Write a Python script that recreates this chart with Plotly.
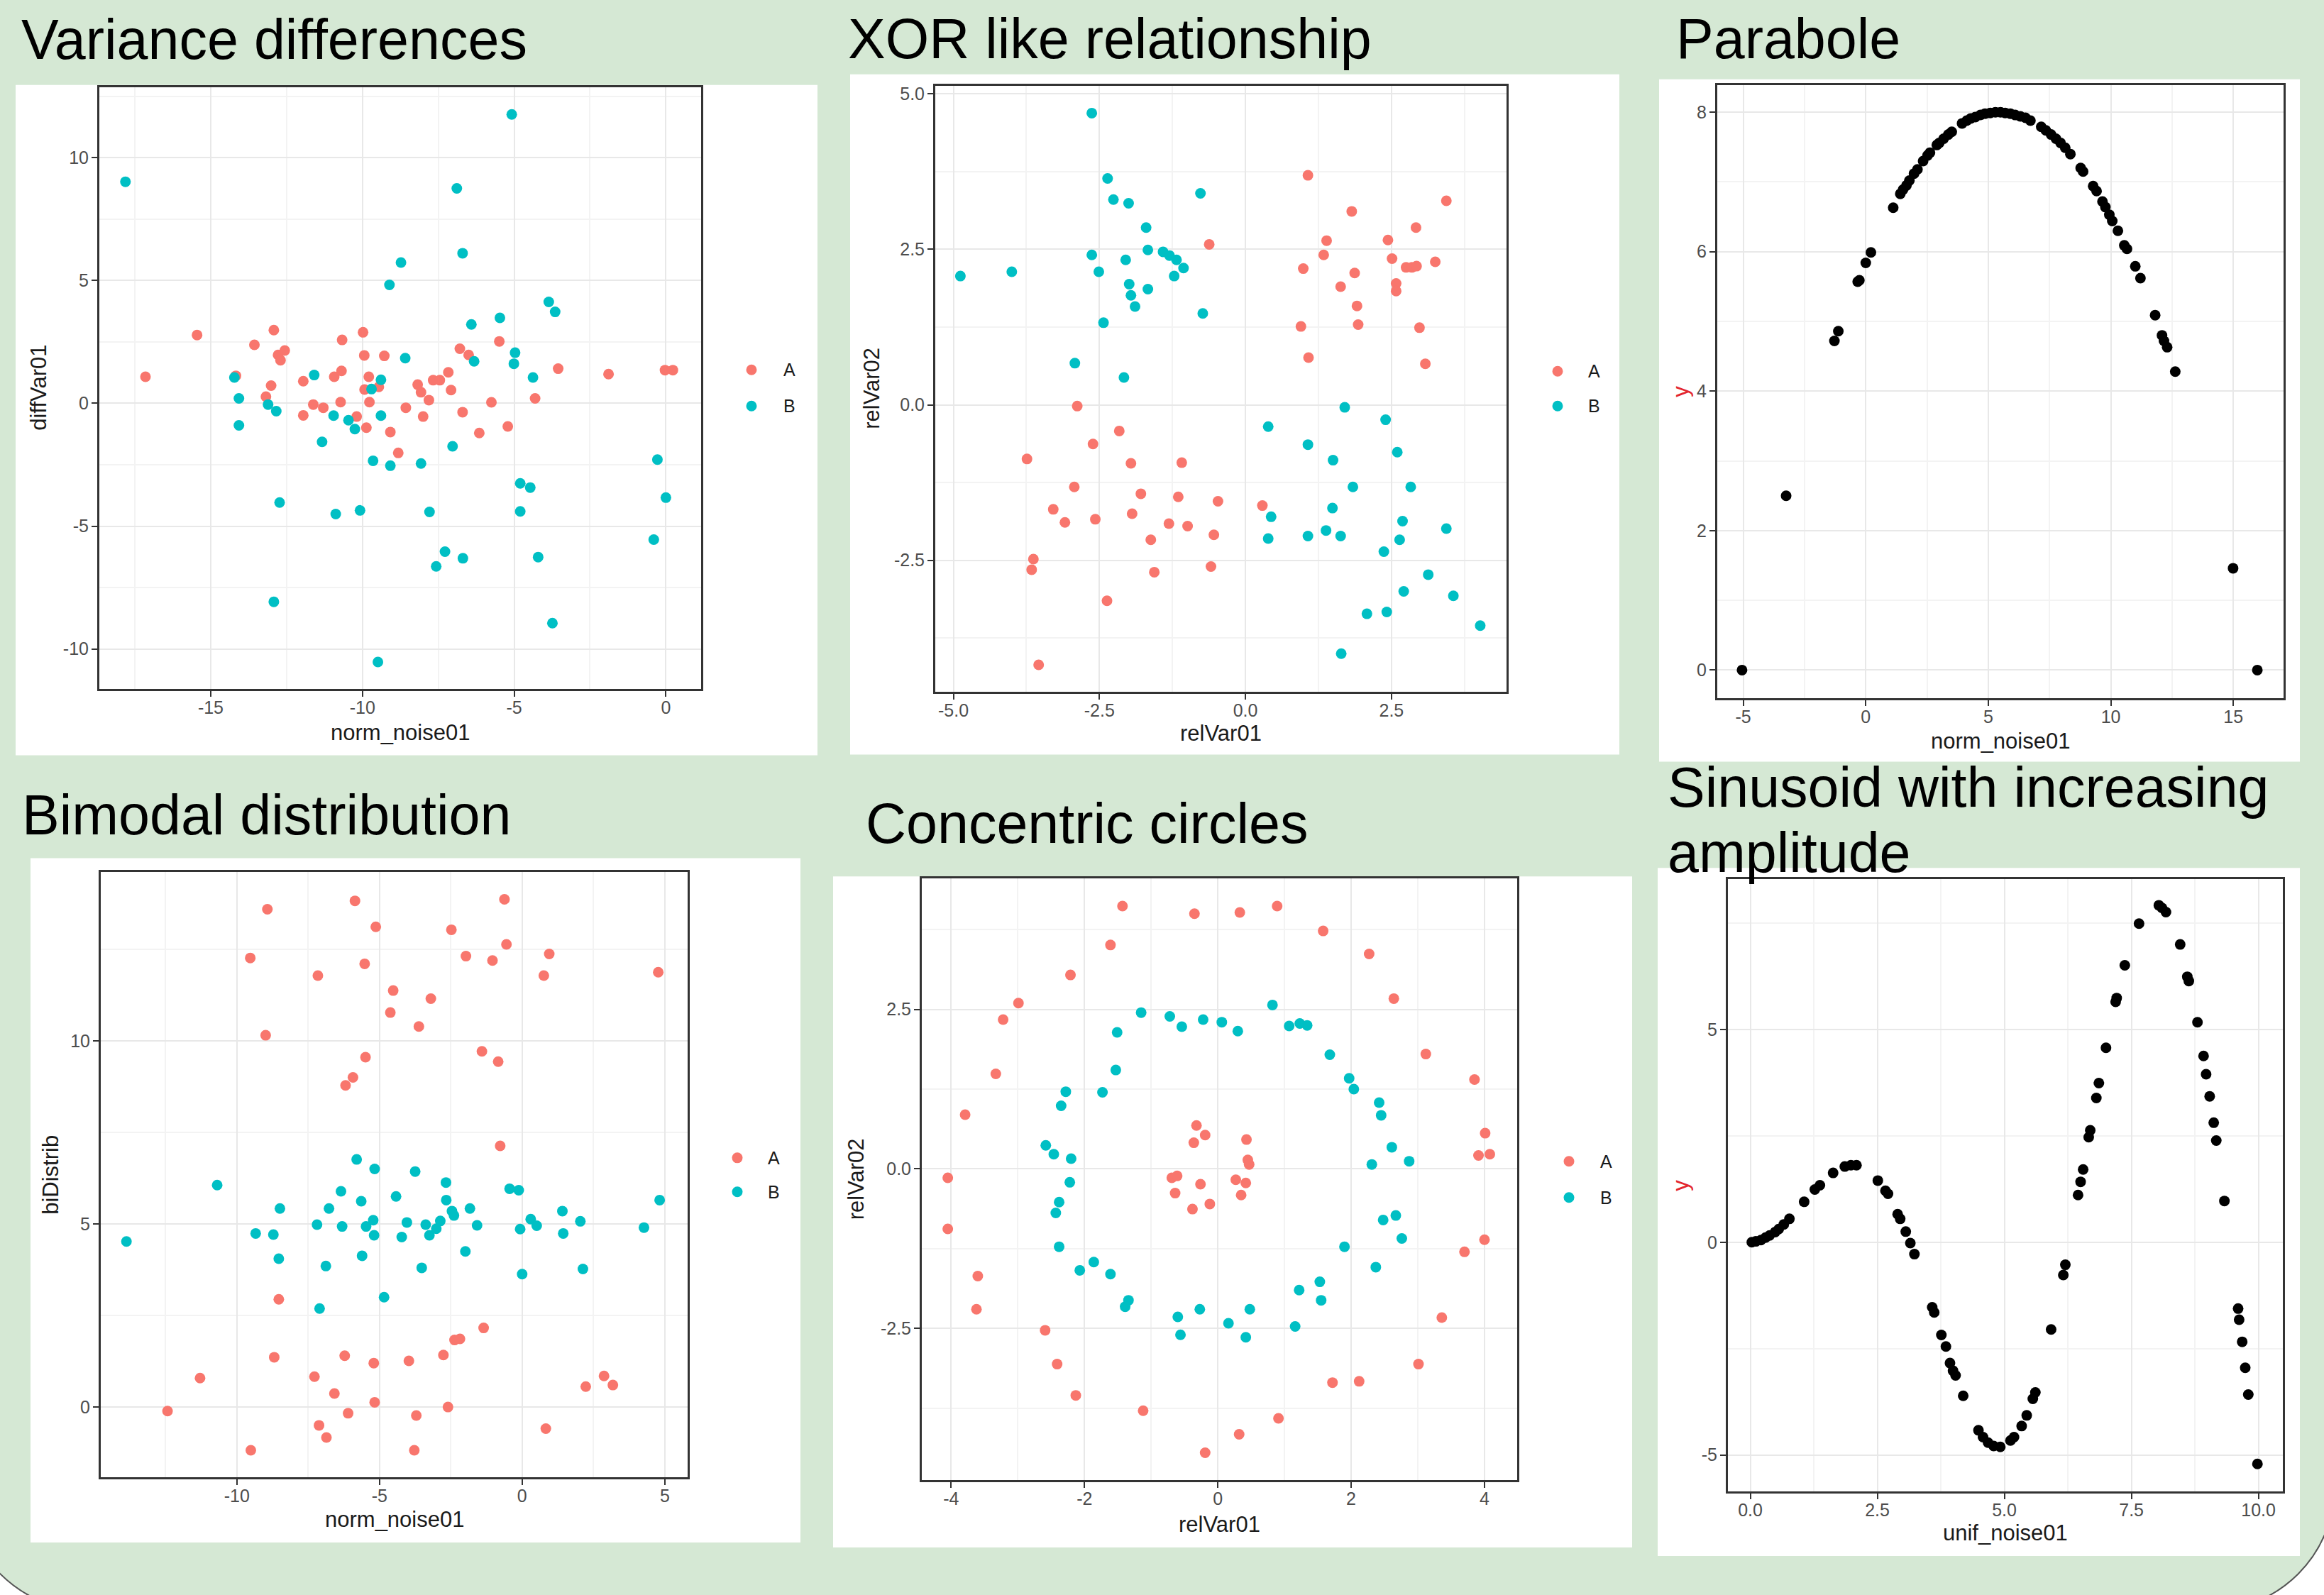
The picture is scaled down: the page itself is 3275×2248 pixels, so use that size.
import plotly.graph_objects as go

W, H = 3275, 2248
RED, TEAL, BLACK = "#F8766D", "#00BFC4", "#000000"
FONT = "Liberation Sans, Arial, Helvetica, sans-serif"

# ---------------- data ----------------
VAR_A_X = [-17.15, -15.45, -13.56, -12.92, -12.78, -12.56, -12.70, -13.01, -13.18, -14.17,
           -11.95, -11.95, -11.62, -11.29, -10.93, -10.69, -10.67, -10.72, -10.19, -9.98,
           -9.94, -9.93, -9.79, -9.77, -9.87, -9.46, -9.28, -9.08, -8.82, -8.57,
           -8.18, -8.07, -8.00, -7.81, -7.67, -7.45, -7.17, -7.08, -6.79, -6.50,
           -6.70, -6.15, -5.75, -5.49, -5.21, -4.31, -3.55, -1.89, -0.03, 0.23]
VAR_A_Y = [1.08, 2.78, 2.38, 2.98, 1.97, 2.15, 1.75, 0.72, 0.27, 1.12,
           0.90, -0.49, -0.05, -0.18, 1.08, 1.32, 2.58, 0.05, -0.54, 2.89,
           1.95, 0.56, 1.08, 0.05, -0.99, 0.67, 1.93, -1.17, -2.02, -0.18,
           0.76, 0.45, -0.54, 0.13, 0.94, 0.94, 1.26, 0.54, 2.22, 1.97,
           -0.36, -1.21, 0.04, 2.52, -0.94, 0.20, 1.41, 1.19, 1.35, 1.35]
VAR_B_X = [-17.81, -5.08, -6.89, -6.70, -8.73, -9.11, -3.86, -3.65, -5.47, -6.41,
           -4.97, -5.01, -6.32, -8.59, -4.38, -14.22, -14.07, -14.07, -13.11, -12.84,
           -11.59, -11.33, -10.95, -10.46, -10.25, -9.70, -9.39, -9.39, -9.65, -9.08,
           -8.07, -7.03, -12.73, -10.88, -10.08, -7.79, -4.80, -4.47, -4.80, -0.28,
           0.0, -0.40, -7.28, -7.57, -6.69, -4.21, -12.92, -3.74, -9.49]
VAR_B_Y = [9.02, 11.76, 8.75, 6.11, 5.73, 4.82, 4.13, 3.72, 3.48, 3.21,
           2.06, 1.61, 1.71, 1.84, 1.05, 1.05, 0.20, -0.90, -0.05, -0.32,
           1.15, -1.57, -0.50, -0.69, -1.05, 0.58, 0.96, -0.50, -2.34, -2.54,
           -2.45, -1.75, -4.04, -4.51, -4.36, -4.42, -3.26, -3.43, -4.40, -2.29,
           -3.84, -5.55, -6.04, -6.64, -6.31, -6.26, -8.08, -8.95, -10.53]

XOR_A_X = [1.07, 3.44, 1.82, 2.92, 1.39, 2.44, 1.34, 2.51, 3.25, 0.99,
           2.75, 2.85, 2.93, 1.87, 1.63, 2.58, 2.58, 1.91, 1.93, 0.95,
           2.98, 1.08, 3.08, -0.62, -2.88, -2.16, -2.61, -3.74, -1.96, -1.09,
           -2.93, -1.79, -1.15, -0.47, -3.29, -1.94, -3.09, -2.57, -1.31, -0.99,
           -0.54, -1.62, 0.29, -3.63, -3.66, -1.56, -0.59, -2.37, -3.54]
XOR_A_Y = [3.69, 3.28, 3.11, 2.85, 2.64, 2.65, 2.41, 2.35, 2.30, 2.19,
           2.21, 2.21, 2.23, 2.12, 1.90, 1.95, 1.83, 1.59, 1.29, 1.26,
           1.24, 0.76, 0.66, 2.58, -0.02, -0.42, -0.63, -0.87, -0.94, -0.93,
           -1.32, -1.43, -1.48, -1.55, -1.68, -1.75, -1.89, -1.84, -1.91, -1.95,
           -2.09, -2.17, -1.62, -2.48, -2.65, -2.69, -2.60, -3.15, -4.18]
XOR_B_X = [-2.63, -2.36, -2.26, -2.00, -0.77, -1.70, -1.67, -1.41, -1.30, -1.18,
           -1.06, -1.22, -2.63, -2.05, -2.51, -1.99, -1.96, -1.89, -1.67, -0.73,
           -2.43, -4.88, -4.00, -2.92, -2.08, 1.70, 2.40, 0.39, 1.07, 2.60,
           1.50, 1.84, 2.83, 0.44, 1.49, 2.69, 3.44, 1.38, 0.39, 1.07,
           1.63, 2.64, 2.37, 3.13, 2.71, 3.56, 2.08, 2.42, 4.02, 1.64]
XOR_B_Y = [4.69, 3.64, 3.30, 3.24, 3.40, 2.85, 2.49, 2.46, 2.40, 2.33,
           2.20, 2.07, 2.41, 2.33, 2.14, 1.94, 1.76, 1.58, 1.86, 1.47,
           1.32, 2.07, 2.14, 0.67, 0.44, -0.04, -0.24, -0.35, -0.64, -0.76,
           -0.89, -1.32, -1.32, -1.80, -1.66, -1.87, -1.99, -2.02, -2.15, -2.11,
           -2.11, -2.17, -2.36, -2.73, -3.00, -3.07, -3.36, -3.33, -3.55, -4.00]

PARA_X = [-5.05, -3.25, -1.28, -1.12, -0.33, -0.26, 0.0, 0.21, 1.12, 1.41,
          1.52, 1.66, 1.78, 1.97, 2.11, 2.34, 2.52, 2.62, 2.90, 3.00,
          3.18, 3.37, 3.51, 3.93, 4.12, 4.28, 4.47, 4.68, 4.87, 5.08,
          5.29, 5.50, 5.69, 5.90, 6.10, 6.31, 6.52, 6.72, 7.16, 7.35,
          7.56, 7.76, 7.95, 8.14, 8.35, 8.77, 8.87, 9.28, 9.42, 9.66,
          9.78, 9.94, 10.06, 10.29, 10.55, 10.66, 11.00, 11.21, 11.81, 12.09,
          12.17, 12.30, 12.63, 14.99, 15.98]
PARA_Y = [0.0, 2.50, 4.72, 4.86, 5.57, 5.59, 5.84, 5.99, 6.63, 6.83,
          6.89, 6.95, 7.02, 7.12, 7.18, 7.30, 7.38, 7.42, 7.53, 7.56,
          7.62, 7.68, 7.72, 7.84, 7.88, 7.91, 7.93, 7.96, 7.98, 7.99,
          8.00, 8.00, 7.99, 7.98, 7.96, 7.94, 7.92, 7.88, 7.79, 7.74,
          7.68, 7.62, 7.56, 7.49, 7.40, 7.20, 7.15, 6.94, 6.87, 6.72,
          6.64, 6.53, 6.44, 6.30, 6.09, 6.04, 5.79, 5.62, 5.09, 4.80,
          4.72, 4.63, 4.28, 1.46, 0.0]

BI_A_X = [-8.93, -5.86, -0.62, -5.13, -2.48, -0.55, -9.53, -5.52, -1.97, -1.04,
          0.95, -7.16, 0.76, 4.77, -4.52, -3.20, -4.62, -3.62, -8.99, -5.49,
          -1.41, -0.84, -5.93, -6.19, -0.77, -8.53, -1.35, -2.37, -2.18, -8.69,
          -6.22, -2.76, -5.20, -3.97, -11.29, -7.28, 2.87, 3.18, 2.23, -6.58,
          -5.17, -2.60, -12.43, -6.10, -3.71, -7.12, -6.86, 0.83, -9.51, -3.78]
BI_A_Y = [13.59, 13.82, 13.86, 13.11, 13.03, 12.63, 12.26, 12.10, 12.31, 12.19,
          12.37, 11.78, 11.78, 11.87, 11.37, 11.15, 10.77, 10.39, 10.15, 9.55,
          9.71, 9.43, 9.00, 8.78, 7.13, 2.94, 2.16, 1.83, 1.86, 1.36,
          1.40, 1.42, 1.20, 1.26, 0.79, 0.83, 0.85, 0.60, 0.56, 0.37,
          0.13, 0.0, -0.11, -0.17, -0.23, -0.50, -0.83, -0.59, -1.18, -1.18]
BI_B_X = [-13.87, -10.69, -5.80, -5.17, -3.75, -2.67, -2.66, -6.35, -4.42, -5.64,
          -6.77, -8.49, -1.83, -0.44, -0.12, 1.41, 2.04, 4.82, -9.34, -8.72,
          -7.19, -6.31, -5.47, -5.22, -5.19, -4.22, -4.04, -3.38, -3.25, -3.01,
          -2.87, -2.46, -2.39, -1.58, -0.07, 0.30, 0.51, 1.44, 4.27, -8.53,
          -5.61, -1.99, -6.88, -3.52, 0.0, 2.13, -4.84, -7.10]
BI_B_Y = [4.52, 6.06, 6.76, 6.50, 6.43, 6.13, 5.65, 5.89, 5.75, 5.62,
          5.42, 5.42, 5.42, 5.96, 5.92, 5.35, 5.07, 5.65, 4.74, 4.71,
          4.98, 4.93, 4.93, 5.10, 4.69, 4.64, 5.04, 4.98, 4.69, 4.87,
          5.08, 5.35, 5.23, 4.96, 4.86, 5.13, 4.95, 4.74, 4.90, 4.05,
          4.13, 4.25, 3.85, 3.80, 3.63, 3.77, 3.00, 2.69]

CIRC_A_X = [-1.43, -0.35, 0.33, 0.89, 1.58, -1.61, 2.27, -2.21, -2.99, 2.64,
            -3.22, -3.33, 3.12, 3.85, -3.79, 4.01, 3.91, 4.08, -4.05, -4.05,
            4.00, 3.70, -3.60, -3.62, -2.59, 3.36, -2.41, 3.01, 1.72, 2.12,
            -2.13, -1.12, 0.91, 0.32, -0.19,
            -0.32, -0.19, -0.36, 0.43, 0.45, 0.47, -0.69, -0.61, -0.64, -0.26,
            0.27, 0.42, 0.35, -0.38, -0.12]
CIRC_A_Y = [4.12, 4.00, 4.02, 4.12, 3.73, 3.51, 3.37, 3.04, 2.60, 2.67,
            2.34, 1.49, 1.80, 1.40, 0.85, 0.56, 0.21, 0.23, -0.14, -0.94,
            -1.11, -1.30, -1.68, -2.20, -2.53, -2.33, -3.06, -3.06, -3.35, -3.33,
            -3.55, -3.79, -3.91, -4.16, -4.45,
            0.68, 0.53, 0.41, 0.46, 0.14, 0.07, -0.14, -0.11, -0.38, -0.24,
            -0.17, -0.22, -0.41, -0.63, -0.55]
CIRC_B_X = [-1.15, -0.72, -0.54, -0.22, 0.06, 0.30, 0.82, 1.07, 1.23, 1.34,
            -1.51, -1.53, 1.68, 1.97, 2.04, -1.73, -2.28, -2.35, 2.42, 2.45,
            -2.58, -2.46, -2.20, 2.61, 2.87, 2.31, -2.22, -2.38, -2.43, -2.38,
            2.48, 2.67, 2.76, 1.90, 2.37, -2.07, -1.86, -1.61, 1.53, 1.22,
            1.55, -1.34, -1.39, -0.60, -0.27, 0.48, -0.56, 0.16, 0.42, 1.16]
CIRC_B_Y = [2.45, 2.39, 2.23, 2.34, 2.30, 2.16, 2.57, 2.24, 2.28, 2.25,
            2.14, 1.55, 1.79, 1.42, 1.25, 1.20, 1.21, 0.99, 1.04, 0.84,
            0.37, 0.23, 0.16, 0.34, 0.12, 0.07, -0.21, -0.52, -0.69, -1.22,
            -0.80, -0.73, -1.09, -1.22, -1.54, -1.59, -1.46, -1.65, -1.77, -1.90,
            -2.06, -2.06, -2.16, -2.32, -2.20, -2.20, -2.60, -2.42, -2.64, -2.47]

SIN_X = [0.03, 0.11, 0.21, 0.30, 0.38, 0.49, 0.56, 0.66, 0.77, 1.06,
         1.27, 1.37, 1.63, 1.86, 1.98, 2.09, 2.51, 2.66, 2.71, 2.90,
         2.95, 3.06, 3.15, 3.23, 3.58, 3.62, 3.76, 3.85, 3.93, 3.99,
         4.04, 4.19, 4.49, 4.58, 4.68, 4.79, 4.92, 5.12, 5.19, 5.34,
         5.44, 5.56, 5.61, 5.92, 6.16, 6.20, 6.45, 6.50, 6.55, 6.66,
         6.69, 6.81, 6.86, 7.00, 7.19, 7.21, 7.37, 7.65, 8.04, 8.10,
         8.18, 8.46, 8.60, 8.63, 8.80, 8.92, 8.97, 9.04, 9.12, 9.17,
         9.33, 9.60, 9.62, 9.68, 9.74, 9.80, 9.98]
SIN_Y = [0.0, 0.02, 0.05, 0.11, 0.16, 0.24, 0.31, 0.42, 0.55, 0.95,
         1.24, 1.34, 1.63, 1.78, 1.81, 1.81, 1.45, 1.21, 1.14, 0.66,
         0.55, 0.25, -0.02, -0.28, -1.53, -1.65, -2.18, -2.45, -2.84, -3.02,
         -3.13, -3.61, -4.42, -4.58, -4.71, -4.79, -4.81, -4.66, -4.58, -4.32,
         -4.07, -3.68, -3.53, -2.05, -0.77, -0.53, 1.11, 1.42, 1.71, 2.47,
         2.63, 3.39, 3.74, 4.57, 5.65, 5.74, 6.51, 7.49, 7.92, 7.86,
         7.76, 7.00, 6.24, 6.14, 5.17, 4.38, 3.95, 3.43, 2.81, 2.39,
         0.97, -1.56, -1.82, -2.34, -2.95, -3.58, -5.21]

# ---------------- tick labels ----------------
VAR_XTICKS, VAR_XLABELS = [-15, -10, -5, 0], ["-15", "-10", "-5", "0"]
VAR_YTICKS, VAR_YLABELS = [-10, -5, 0, 5, 10], ["-10", "-5", "0", "5", "10"]
XOR_XTICKS, XOR_XLABELS = [-5.0, -2.5, 0.0, 2.5], ["-5.0", "-2.5", "0.0", "2.5"]
XOR_YTICKS, XOR_YLABELS = [-2.5, 0.0, 2.5, 5.0], ["-2.5", "0.0", "2.5", "5.0"]
PARA_XTICKS, PARA_XLABELS = [-5, 0, 5, 10, 15], ["-5", "0", "5", "10", "15"]
PARA_YTICKS, PARA_YLABELS = [0, 2, 4, 6, 8], ["0", "2", "4", "6", "8"]
BI_XTICKS, BI_XLABELS = [-10, -5, 0, 5], ["-10", "-5", "0", "5"]
BI_YTICKS, BI_YLABELS = [0, 5, 10], ["0", "5", "10"]
CIRC_XTICKS, CIRC_XLABELS = [-4, -2, 0, 2, 4], ["-4", "-2", "0", "2", "4"]
CIRC_YTICKS, CIRC_YLABELS = [-2.5, 0.0, 2.5], ["-2.5", "0.0", "2.5"]
SIN_XTICKS, SIN_XLABELS = [0.0, 2.5, 5.0, 7.5, 10.0], ["0.0", "2.5", "5.0", "7.5", "10.0"]
SIN_YTICKS, SIN_YLABELS = [-5, 0, 5], ["-5", "0", "5"]

TITLES = ["Variance differences", "XOR like relationship", "Parabole",
          "Bimodal distribution", "Concentric circles"]
SIN_TITLE_LINES = ["Sinusoid with increasing", "amplitude"]
GROUPS = ["A", "B"]

# ---------------- layout (pixels) ----------------
panels = [
    dict(white=(22, 117, 1152, 1063), box=(140, 120, 988, 969),
         xr=(-18.67, 1.16), yr=(-11.62, 12.87), xt=(VAR_XTICKS, VAR_XLABELS), yt=(VAR_YTICKS, VAR_YLABELS),
         xminor=(2.5, -17.5), yminor=(2.5, -7.5), xtitle="norm_noise01", ytitle="diffVar01",
         xty=1031, ytx=55, ycol="#1a1a1a",
         series=[(VAR_A_X, VAR_A_Y, RED), (VAR_B_X, VAR_B_Y, TEAL)], legend=(1059, 519, 570, 1102),
         title=(TITLES[0], 28, 80)),
    dict(white=(1198, 102, 2282, 1062), box=(1318, 118, 2123, 973),
         xr=(-5.31, 4.47), yr=(-4.61, 5.13), xt=(XOR_XTICKS, XOR_XLABELS), yt=(XOR_YTICKS, XOR_YLABELS),
         xminor=(1.25, -3.75), yminor=(1.25, -3.75), xtitle="relVar01", ytitle="relVar02",
         xty=1032, ytx=1229, ycol="#1a1a1a",
         series=[(XOR_A_X, XOR_A_Y, RED), (XOR_B_X, XOR_B_Y, TEAL)], legend=(2195, 521, 570, 2236),
         title=(TITLES[1], 1193, 79)),
    dict(white=(2338, 109, 3241, 1072), box=(2420, 117, 3218, 982),
         xr=(-6.06, 17.05), yr=(-0.40, 8.39), xt=(PARA_XTICKS, PARA_XLABELS), yt=(PARA_YTICKS, PARA_YLABELS),
         xminor=(2.5, -2.5), yminor=(1, 1), xtitle="norm_noise01", ytitle="y",
         xty=1043, ytx=2369, ycol="#e3262f",
         series=[(PARA_X, PARA_Y, BLACK)], legend=None,
         title=(TITLES[2], 2360, 79)),
    dict(white=(43, 1208, 1128, 2174), box=(142, 1228, 969, 2082),
         xr=(-14.77, 5.80), yr=(-1.92, 14.60), xt=(BI_XTICKS, BI_XLABELS), yt=(BI_YTICKS, BI_YLABELS),
         xminor=(2.5, -12.5), yminor=(2.5, 2.5), xtitle="norm_noise01", ytitle="biDistrib",
         xty=2141, ytx=72, ycol="#1a1a1a",
         series=[(BI_A_X, BI_A_Y, RED), (BI_B_X, BI_B_Y, TEAL)], legend=(1039, 1631, 1679, 1080),
         title=(TITLES[3], 29, 1174)),
    dict(white=(1174, 1234, 2300, 2181), box=(1299, 1237, 2138, 2086),
         xr=(-4.44, 4.49), yr=(-4.88, 4.55), xt=(CIRC_XTICKS, CIRC_XLABELS), yt=(CIRC_YTICKS, CIRC_YLABELS),
         xminor=(1, -3), yminor=(1.25, -3.75), xtitle="relVar01", ytitle="relVar02",
         xty=2148, ytx=1206, ycol="#1a1a1a",
         series=[(CIRC_A_X, CIRC_A_Y, RED), (CIRC_B_X, CIRC_B_Y, TEAL)], legend=(2211, 1636, 1687, 2253),
         title=(TITLES[4], 1218, 1186)),
    dict(white=(2336, 1222, 3241, 2193), box=(2435, 1238, 3217, 2102),
         xr=(-0.44, 10.48), yr=(-5.86, 8.53), xt=(SIN_XTICKS, SIN_XLABELS), yt=(SIN_YTICKS, SIN_YLABELS),
         xminor=(2.5, 1.25), yminor=(5, -2.5), xtitle="unif_noise01", ytitle="y",
         xty=2160, ytx=2369, ycol="#e3262f",
         series=[(SIN_X, SIN_Y, BLACK)], legend=None, title=None),
]


def fx(px):
    return px / W


def fy(py):
    return 1 - py / H


TITLE_FS = 79
AXT_FS = 31
TICK_FS = 25
LEG_FS = 25


def title_center(baseline):
    return baseline - 0.3465 * TITLE_FS


fig = go.Figure()
shapes = []
annotations = []

# green rounded background
Lp, Rp, Bp, Tp, r = -51, 3290, 2270, -60, 176
k = 0.5523 * r
pts = lambda x, y: f"{fx(x):.6f},{fy(y):.6f}"
path = (f"M {pts(Lp, Tp)} L {pts(Rp, Tp)} L {pts(Rp, Bp - r)} "
        f"C {pts(Rp, Bp - r + k)} {pts(Rp - r + k, Bp)} {pts(Rp - r, Bp)} "
        f"L {pts(Lp + r, Bp)} C {pts(Lp + r - k, Bp)} {pts(Lp, Bp - r + k)} {pts(Lp, Bp - r)} Z")
shapes.append(dict(type="path", xref="paper", yref="paper", path=path,
                   fillcolor="#d5e8d4", line=dict(color="#555555", width=2), layer="below"))

layout = dict(width=W, height=H, margin=dict(l=0, r=0, t=0, b=0),
              paper_bgcolor="#ffffff", plot_bgcolor="#ffffff", showlegend=False,
              font=dict(family=FONT))

for i, p in enumerate(panels, start=1):
    sx = "" if i == 1 else str(i)
    wx0, wy0, wx1, wy1 = p["white"]
    shapes.append(dict(type="rect", xref="paper", yref="paper", x0=fx(wx0), x1=fx(wx1),
                       y0=fy(wy1), y1=fy(wy0), fillcolor="#ffffff", line=dict(width=0), layer="below"))
    bx0, by0, bx1, by1 = p["box"]
    common = dict(showline=True, mirror=True, linecolor="#333333", linewidth=3,
                  ticks="outside", ticklen=8, tickwidth=2, tickcolor="#333333",
                  showgrid=True, gridcolor="#e8e8e8", gridwidth=2, zeroline=False,
                  tickfont=dict(family=FONT, size=TICK_FS, color="#4d4d4d"),
                  tickmode="array", fixedrange=True)
    layout["xaxis" + sx] = dict(common, domain=[fx(bx0), fx(bx1)], anchor="y" + sx,
                                range=list(p["xr"]), tickvals=p["xt"][0], ticktext=p["xt"][1],
                                ticklabelstandoff=-6,
                                minor=dict(tickmode="linear", dtick=p["xminor"][0], tick0=p["xminor"][1],
                                           showgrid=True, gridcolor="#f3f3f3", gridwidth=1.5, ticks=""))
    layout["yaxis" + sx] = dict(common, domain=[fy(by1), fy(by0)], anchor="x" + sx,
                                range=list(p["yr"]), tickvals=p["yt"][0], ticktext=p["yt"][1],
                                ticklabelstandoff=-1,
                                minor=dict(tickmode="linear", dtick=p["yminor"][0], tick0=p["yminor"][1],
                                           showgrid=True, gridcolor="#f3f3f3", gridwidth=1.5, ticks=""))
    for (xs, ys, col), name in zip(p["series"], GROUPS):
        fig.add_trace(go.Scatter(x=xs, y=ys, mode="markers", name=name,
                                 marker=dict(color=col, size=15, line=dict(width=0)),
                                 xaxis="x" + sx, yaxis="y" + sx, hoverinfo="skip"))
    # axis titles
    annotations.append(dict(text=p["xtitle"], xref="paper", yref="paper",
                            x=fx((bx0 + bx1) / 2), y=fy(p["xty"]), xanchor="center", yanchor="middle",
                            showarrow=False, font=dict(family=FONT, size=AXT_FS, color="#1a1a1a")))
    annotations.append(dict(text=p["ytitle"], xref="paper", yref="paper", textangle=-90,
                            x=fx(p["ytx"]), y=fy((by0 + by1) / 2), xanchor="center", yanchor="middle",
                            showarrow=False, font=dict(family=FONT, size=AXT_FS, color=p["ycol"])))
    # legend
    if p["legend"]:
        mx, ya, yb, tx = p["legend"]
        for (xs, ys, col), name, yy in zip(p["series"], GROUPS, (ya, yb)):
            shapes.append(dict(type="circle", xref="paper", yref="paper", xsizemode="pixel",
                               ysizemode="pixel", xanchor=fx(mx), yanchor=fy(yy),
                               x0=-7.5, x1=7.5, y0=-7.5, y1=7.5, fillcolor=col, line=dict(width=0)))
            annotations.append(dict(text=name, xref="paper", yref="paper", x=fx(tx), y=fy(yy),
                                    xanchor="left", yanchor="middle", showarrow=False,
                                    font=dict(family=FONT, size=LEG_FS, color="#1a1a1a")))
    if p["title"]:
        t, tx, base = p["title"]
        annotations.append(dict(text=t, xref="paper", yref="paper", x=fx(tx), y=fy(title_center(base)),
                                xanchor="left", yanchor="middle", showarrow=False,
                                font=dict(family=FONT, size=TITLE_FS, color="#000000")))

for line, base in zip(SIN_TITLE_LINES, (1135, 1227)):
    annotations.append(dict(text=line, xref="paper", yref="paper", x=fx(2348), y=fy(title_center(base)),
                            xanchor="left", yanchor="middle", showarrow=False,
                            font=dict(family=FONT, size=TITLE_FS, color="#000000")))

layout["shapes"] = shapes
layout["annotations"] = annotations
fig.update_layout(**layout)
fig.write_html("out.html", config={"displayModeBar": False},
               post_script="document.body.style.margin='0';document.body.style.overflow='hidden';")
